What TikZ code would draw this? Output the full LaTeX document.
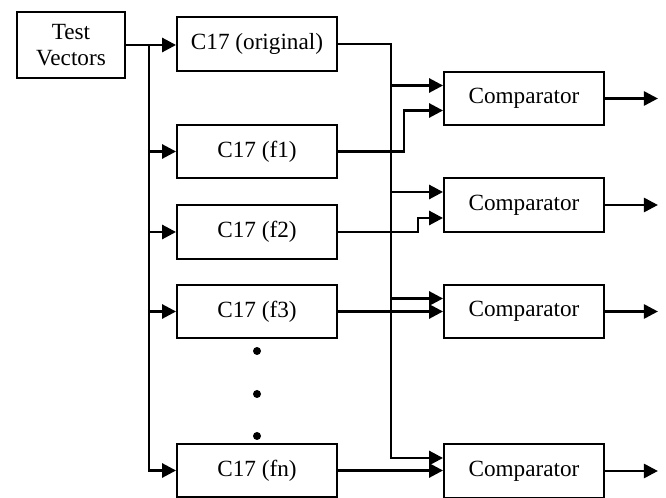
\documentclass[tikz,border=0pt]{standalone}
\usepackage{fontspec}
\setmainfont{Liberation Serif}
\usetikzlibrary{calc}
\usetikzlibrary{positioning}
\usetikzlibrary{arrows.meta}

\begin{document}
\begin{tikzpicture}[
          x=0.025cm, y=-0.025cm,
          block/.style = {rectangle, draw, minimum width=4cm, minimum height=1.33cm, align=center, line width=1.3pt, inner sep=0pt},
          arrow/.style = {line width=2pt, -{Triangle[length=10pt, width=10pt]}},
          font = \fontsize{16.5}{18}\selectfont
        ]
        \useasboundingbox (0,0) rectangle (666,498);

        % Nodes
        \node[block, minimum width=2.7cm, minimum height=1.65cm] (tv) at (71,45) {Test\\Vectors};
        \node[block] (orig) at (257,44) {C17 (original)};
        \node[block] (f1) at (257,151.5) {C17 (f1)};
        \node[block] (f2) at (257,232) {C17 (f2)};
        \node[block] (f3) at (257,311.5) {C17 (f3)};
        \node[block] (fn) at (257,470.5) {C17 (fn)};

        \node[block] (comp1) at (524,98.5) {Comparator};
        \node[block] (comp2) at (524,205) {Comparator};
        \node[block] (comp3) at (524,311.5) {Comparator};
        \node[block] (comp4) at (524,471) {Comparator};

        % Comparator inputs
        \coordinate (c1a) at ($(comp1.west)+(0,-13)$);
        \coordinate (c1b) at ($(comp1.west)+(0,12)$);
        \coordinate (c2a) at ($(comp2.west)+(0,-13)$);
        \coordinate (c2b) at ($(comp2.west)+(0,13)$);
        \coordinate (c3a) at ($(comp3.west)+(0,-13)$);
        \coordinate (c4a) at ($(comp4.west)+(0,-13)$);

        % Buses
        \coordinate (lbus) at (149,45);
        \coordinate (rbus) at (391,44);

        % Paths from the test vectors
        \draw[arrow] (tv.east) -- (tv.east -| orig.west);
        \draw[arrow] (lbus) |- (fn.west);
        \draw[arrow] (lbus |- f1) -- (f1.west);
        \draw[arrow] (lbus |- f2) -- (f2.west);
        \draw[arrow] (lbus |- f3) -- (f3.west);

        % Dots
        \foreach \y in {351,394,436}
          \fill (257,\y) circle (4);

        % Paths to the comparators
        \draw[arrow] (orig.east) -| (rbus |- c4a) -- (c4a);
        \draw[arrow] (rbus |- c1a) -- (c1a);
        \draw[arrow] (rbus |- c2a) -- (c2a);
        \draw[arrow] (rbus |- c3a) -- (c3a);

        \draw[arrow] (f1.east) -- ++(66,0) |- (c1b);
        \draw[arrow] (f2.east) -- ++(80,0) |- (c2b);
        \draw[arrow] (f3.east) -- (comp3.west);
        \draw[arrow] (fn.east) -- (fn.east -| comp4.west);

        % Outputs
        \foreach \c in {comp1,comp2,comp3,comp4}
          \draw[arrow] (\c.east) -- ++(53,0);

      \end{tikzpicture}
\end{document}
